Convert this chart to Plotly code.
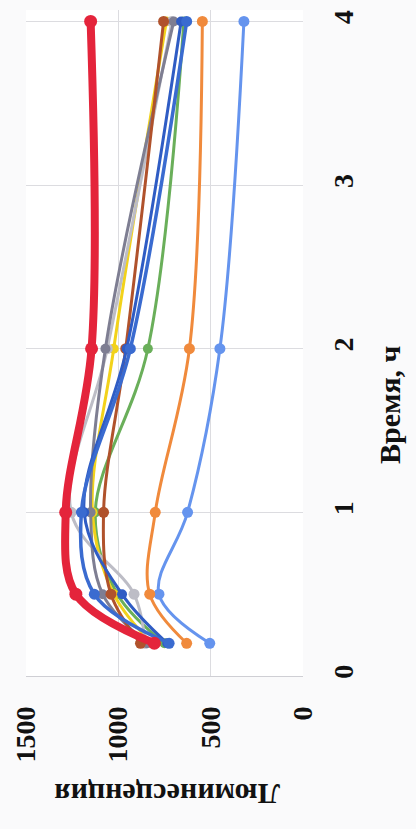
import plotly.graph_objects as go

# Sampling times, h
times = [0.2, 0.5, 1, 2, 4]

# Luminescence readings for each sample
red_series = [805, 1230, 1285, 1145, 1150]
blue_series = [725, 1130, 1200, 935, 630]
orange_series = [630, 830, 800, 615, 545]
lightgray_series = [855, 915, 1255, 1060, 710]
yellow_series = [820, 1025, 1140, 1025, 740]
lightblue_series = [505, 780, 625, 450, 320]
green_series = [750, 1005, 1125, 840, 645]
darkblue_series = [735, 980, 1185, 955, 660]
brown_series = [880, 1040, 1080, 960, 755]
darkgray_series = [845, 1085, 1150, 1070, 700]

time_ticks = [0, 1, 2, 3, 4]
lum_ticks = [0, 500, 1000, 1500]

series = [
    (lightblue_series, "#6594EE", 3, 11),
    (orange_series, "#F08A3C", 3, 11),
    (green_series, "#6AAF5A", 3, 10),
    (yellow_series, "#F2D21B", 3, 10),
    (lightgray_series, "#BDBDC6", 3, 11),
    (darkgray_series, "#7E7E92", 3, 10),
    (brown_series, "#B0522C", 3, 11),
    (darkblue_series, "#2F5CC4", 3, 10),
    (blue_series, "#3A6BD0", 3.5, 11),
    (red_series, "#E4243B", 8, 13),
]

fig = go.Figure()
for values, color, width, msize in series:
    fig.add_trace(go.Scatter(
        x=values, y=times, mode="lines+markers",
        line=dict(color=color, width=width, shape="spline", smoothing=1),
        marker=dict(color=color, size=msize),
        showlegend=False,
    ))

tick_font = dict(family="Liberation Serif", size=28, color="#111111", weight="bold")

fig.update_layout(
    width=416, height=829,
    margin=dict(l=23, r=113, t=10, b=153),
    paper_bgcolor="#FAFAFB",
    plot_bgcolor="#FFFFFF",
    xaxis=dict(
        range=[1500, 0], tickvals=lum_ticks, ticktext=[str(v) for v in lum_ticks],
        tickangle=-90, tickfont=tick_font, showgrid=True, gridcolor="#DCDCE0",
        gridwidth=1, zeroline=False, showline=False, ticks="", ticklabelstandoff=24,
    ),
    yaxis=dict(
        range=[0, 4.07], tickvals=time_ticks, ticktext=[str(v) for v in time_ticks],
        side="right", tickangle=-90, tickfont=tick_font, showgrid=True,
        gridcolor="#DCDCE0", gridwidth=1, zeroline=True, zerolinecolor="#CFCFD4",
        zerolinewidth=1, showline=False, ticks="", ticklabelstandoff=21,
    ),
    annotations=[
        dict(text="Время, ч", xref="paper", yref="paper", x=(390 - 23) / 280,
             y=(676 - 405) / 666, showarrow=False, textangle=-90,
             font=dict(family="Liberation Serif", size=30, color="#111111", weight="bold"),
             xanchor="center", yanchor="middle"),
        dict(text="Люминесценция", xref="paper", yref="paper", x=(165 - 23) / 280,
             y=(676 - 795) / 666, showarrow=False, textangle=180,
             font=dict(family="Liberation Serif", size=30, color="#111111", weight="bold"),
             xanchor="center", yanchor="middle"),
    ],
)

fig.write_html("out.html")
